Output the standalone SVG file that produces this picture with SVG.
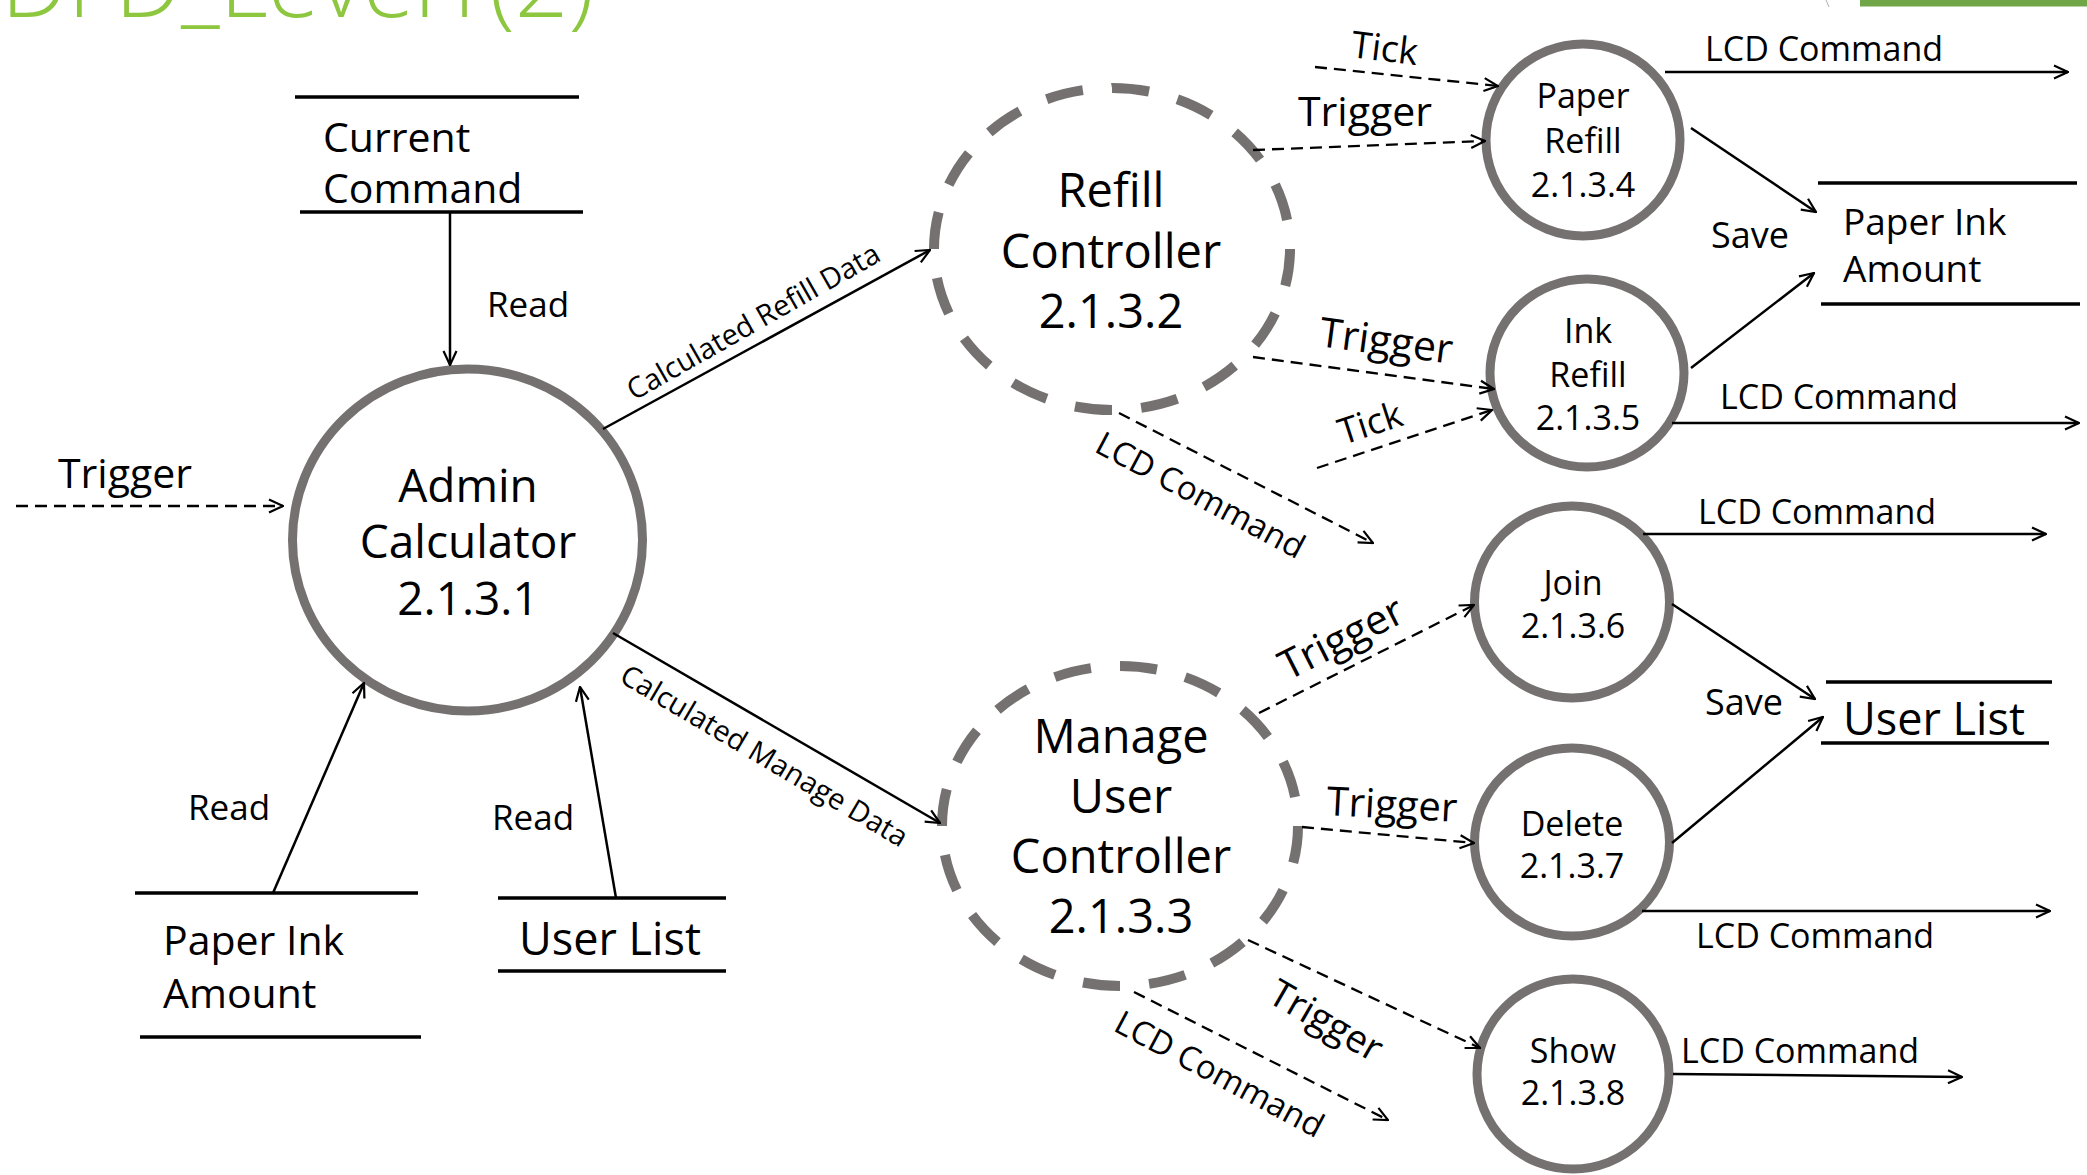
<svg xmlns="http://www.w3.org/2000/svg" width="2087" height="1175" viewBox="0 0 2087 1175">
<defs>
<marker id="arr" viewBox="0 0 16 16" refX="15" refY="8" markerWidth="16" markerHeight="16" markerUnits="userSpaceOnUse" orient="auto">
<path d="M1,1.5 L15,8 L1,14.5" fill="none" stroke="#000" stroke-width="2.2"/>
</marker>
<style>
text{font-family:"Open Sans","Noto Sans","Liberation Sans",sans-serif;fill:#000;}
.c{text-anchor:middle;}
.proc{fill:#fff;stroke:#767171;stroke-width:9;}
.ctrl{fill:#fff;stroke:#767171;stroke-width:10;stroke-dasharray:56 44;}
.store{stroke:#000;stroke-width:3.5;}
.flow{stroke:#000;stroke-width:2.5;fill:none;marker-end:url(#arr);}
.dflow{stroke:#000;stroke-width:2.3;fill:none;stroke-dasharray:12 7;marker-end:url(#arr);}
.big{font-size:47px;}
.small{font-size:34px;}
.lbl{font-size:34px;}
</style>
</defs>
<rect width="2087" height="1175" fill="#fff"/>
<text x="594" y="17" text-anchor="end" font-size="94" font-weight="300" style="fill:#8DC63F">DFD_Level1(2)</text>
<rect x="1860" y="0" width="227" height="6.5" fill="#70A548"/>
<line x1="1826" y1="0" x2="1829" y2="7" stroke="#b0b0b0" stroke-width="1"/>

<g id="current-command">
<line class="store" x1="295" y1="97" x2="579" y2="97"/>
<line class="store" x1="300" y1="212" x2="583" y2="212"/>
<text x="323" y="152" font-size="41">Current</text>
<text x="323" y="203" font-size="41">Command</text>
</g>
<g id="paper-ink-amount-left">
<line class="store" x1="135" y1="893" x2="418" y2="893"/>
<line class="store" x1="140" y1="1037" x2="421" y2="1037"/>
<text x="163" y="955" font-size="41">Paper Ink</text>
<text x="163" y="1008" font-size="41">Amount</text>
</g>
<g id="user-list-bottom">
<line class="store" x1="498" y1="898" x2="726" y2="898"/>
<line class="store" x1="498" y1="971" x2="726" y2="971"/>
<text x="519" y="955" font-size="45">User List</text>
</g>
<g id="paper-ink-amount-right">
<line class="store" x1="1818" y1="183" x2="2077" y2="183"/>
<line class="store" x1="1821" y1="304" x2="2080" y2="304"/>
<text x="1843" y="235" font-size="37">Paper Ink</text>
<text x="1843" y="282" font-size="37">Amount</text>
</g>
<g id="user-list-right">
<line class="store" x1="1826" y1="682" x2="2052" y2="682"/>
<line class="store" x1="1821" y1="743" x2="2049" y2="743"/>
<text x="1843" y="735" font-size="45">User List</text>
</g>

<g id="admin-calculator">
<ellipse class="proc" cx="467.5" cy="540" rx="175" ry="171"/>
<text class="c" x="468" y="502" font-size="46">Admin</text>
<text class="c" x="468" y="558" font-size="46">Calculator</text>
<text class="c" x="468" y="615" font-size="46">2.1.3.1</text>
</g>
<g id="refill-controller">
<ellipse class="ctrl" cx="1112" cy="249" rx="178" ry="161" pathLength="1600"/>
<text class="c big" x="1111" y="207">Refill</text>
<text class="c big" x="1111" y="268">Controller</text>
<text class="c big" x="1111" y="328">2.1.3.2</text>
</g>
<g id="manage-user-controller">
<ellipse class="ctrl" cx="1120" cy="826" rx="178" ry="160" pathLength="1600"/>
<text class="c big" x="1121" y="753">Manage</text>
<text class="c big" x="1121" y="813">User</text>
<text class="c big" x="1121" y="873">Controller</text>
<text class="c big" x="1121" y="933">2.1.3.3</text>
</g>
<g id="paper-refill">
<ellipse class="proc" cx="1583" cy="140" rx="97" ry="96"/>
<text class="c small" x="1583" y="108">Paper</text>
<text class="c small" x="1583" y="153">Refill</text>
<text class="c small" x="1583" y="197">2.1.3.4</text>
</g>
<g id="ink-refill">
<ellipse class="proc" cx="1587" cy="373" rx="97" ry="94"/>
<text class="c small" x="1588" y="343">Ink</text>
<text class="c small" x="1588" y="387">Refill</text>
<text class="c small" x="1588" y="430">2.1.3.5</text>
</g>
<g id="join">
<ellipse class="proc" cx="1572" cy="602" rx="97.5" ry="96"/>
<text class="c small" x="1573" y="595">Join</text>
<text class="c small" x="1573" y="638">2.1.3.6</text>
</g>
<g id="delete">
<ellipse class="proc" cx="1572" cy="842" rx="97.5" ry="94"/>
<text class="c small" x="1572" y="836">Delete</text>
<text class="c small" x="1572" y="878">2.1.3.7</text>
</g>
<g id="show">
<ellipse class="proc" cx="1573" cy="1074" rx="96" ry="95"/>
<text class="c small" x="1573" y="1063">Show</text>
<text class="c small" x="1573" y="1105">2.1.3.8</text>
</g>

<g id="connectors">
<line class="flow" x1="450" y1="212" x2="450" y2="365"/>
<text x="487" y="317" font-size="35">Read</text>
<line class="dflow" x1="16" y1="506" x2="283" y2="506"/>
<text x="58" y="488" font-size="41">Trigger</text>
<line class="flow" x1="273" y1="893" x2="364" y2="683"/>
<text x="188" y="820" font-size="35">Read</text>
<line class="flow" x1="616" y1="898" x2="580" y2="687"/>
<text x="492" y="830" font-size="35">Read</text>
<line class="flow" x1="603" y1="429" x2="930" y2="250"/>
<text transform="translate(634,401) rotate(-29.6)" font-size="29">Calculated Refill Data</text>
<line class="flow" x1="613" y1="633" x2="940" y2="823"/>
<text transform="translate(618,681) rotate(30.6)" font-size="29">Calculated Manage Data</text>

<line class="dflow" x1="1253" y1="150" x2="1485" y2="141"/>
<text x="1298" y="126" font-size="41">Trigger</text>
<line class="dflow" x1="1315" y1="67" x2="1498" y2="86"/>
<text transform="translate(1350,57) rotate(7)" font-size="37">Tick</text>
<line class="dflow" x1="1253" y1="357" x2="1494" y2="389"/>
<text transform="translate(1318,346) rotate(7.6)" font-size="41">Trigger</text>
<line class="dflow" x1="1317" y1="468" x2="1492" y2="410"/>
<text transform="translate(1343,445) rotate(-18)" font-size="36">Tick</text>
<line class="dflow" x1="1119" y1="413" x2="1373" y2="543"/>
<text transform="translate(1093,451) rotate(28)" font-size="33">LCD Command</text>

<line class="flow" x1="1665" y1="72" x2="2068" y2="72"/>
<text class="lbl" x="1705" y="61">LCD Command</text>
<line class="flow" x1="1691" y1="128" x2="1816" y2="212"/>
<text x="1711" y="248" font-size="36">Save</text>
<line class="flow" x1="1691" y1="368" x2="1814" y2="273"/>
<line class="flow" x1="1672" y1="423" x2="2079" y2="423"/>
<text class="lbl" x="1720" y="409">LCD Command</text>

<line class="dflow" x1="1259" y1="713" x2="1474" y2="605"/>
<text transform="translate(1288,681) rotate(-27)" font-size="41">Trigger</text>
<line class="dflow" x1="1302" y1="827" x2="1474" y2="843"/>
<text transform="translate(1326,815) rotate(3)" font-size="40">Trigger</text>
<line class="dflow" x1="1248" y1="940" x2="1480" y2="1048"/>
<text transform="translate(1266,1001) rotate(30)" font-size="38">Trigger</text>
<line class="dflow" x1="1134" y1="992" x2="1388" y2="1120"/>
<text transform="translate(1112,1030) rotate(28)" font-size="33">LCD Command</text>

<line class="flow" x1="1643" y1="534" x2="2046" y2="534"/>
<text class="lbl" x="1698" y="524">LCD Command</text>
<line class="flow" x1="1672" y1="604" x2="1815" y2="699"/>
<text x="1705" y="715" font-size="36">Save</text>
<line class="flow" x1="1672" y1="843" x2="1823" y2="717"/>
<line class="flow" x1="1642" y1="911" x2="2050" y2="911"/>
<text class="lbl" x="1696" y="948">LCD Command</text>
<line class="flow" x1="1673" y1="1074" x2="1962" y2="1077"/>
<text class="lbl" x="1681" y="1063">LCD Command</text>
</g>
</svg>
